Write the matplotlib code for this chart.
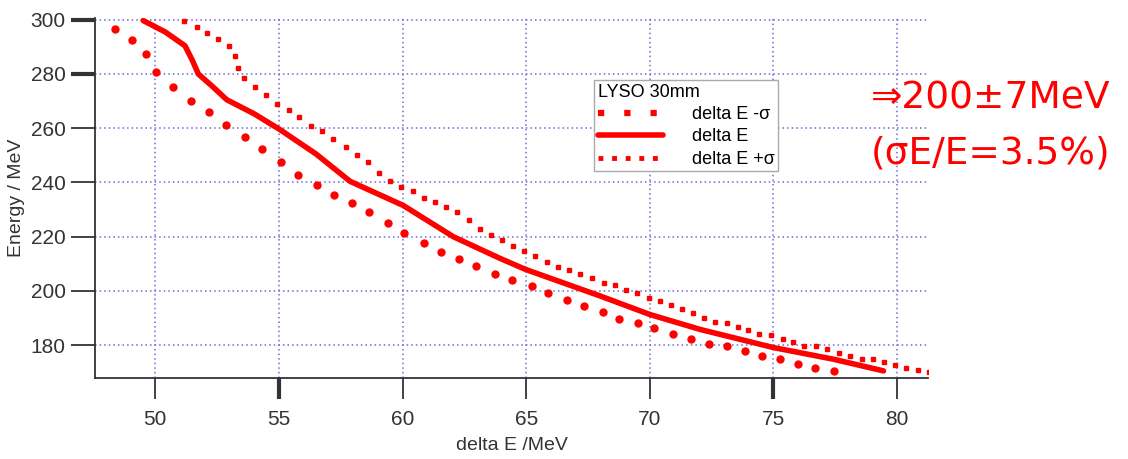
import matplotlib.pyplot as plt
from matplotlib.lines import Line2D

plt.rcParams['font.family'] = ['Liberation Sans', 'DejaVu Sans']

# courbe centrale : delta E
x_mid = [49.51, 50.4, 51.2, 51.5, 51.74, 52.3, 52.89, 54.0, 55.04, 56.5, 57.88,
         60.03, 62.05, 63.94, 64.98, 68.0, 70.0, 72.03, 75.0, 77.43, 79.45]
y_mid = [299.7, 295.5, 290.4, 285.0, 280.0, 275.5, 270.5, 265.3, 259.5, 250.5, 240.4,
         231.5, 220.0, 212.0, 207.9, 198.1, 191.3, 185.8, 179.1, 174.8, 170.5]

# delta E - sigma (gros points)
x_low = [48.37, 49.07, 49.62, 50.03, 50.7, 51.43, 52.16, 52.86, 53.63, 54.32, 55.07,
         55.78, 56.53, 57.23, 57.94, 58.66, 59.4, 60.06, 60.87, 61.54, 62.3, 62.97,
         63.74, 64.42, 65.23, 65.9, 66.67, 67.35, 68.1, 68.77, 69.51, 70.17, 70.95,
         71.65, 72.41, 73.14, 73.85, 74.55, 75.27, 75.99, 76.68, 77.43]
y_low = [296.6, 292.6, 287.4, 280.7, 275.2, 269.9, 265.9, 261.3, 256.8, 252.4, 247.6,
         242.6, 238.9, 235.3, 232.5, 229.0, 225.1, 221.2, 217.5, 214.4, 211.6, 209.1,
         206.4, 204.0, 201.8, 199.3, 196.6, 194.4, 192.2, 189.8, 188.3, 186.5, 184.0,
         182.4, 180.6, 179.5, 177.9, 176.0, 175.0, 173.2, 171.5, 170.5]

# delta E + sigma (petits points)
x_up = [51.16, 51.67, 52.1, 52.55, 52.98, 53.24, 53.36, 53.6, 54.03, 54.47, 54.91,
        55.4, 55.83, 56.29, 56.73, 57.2, 57.7, 58.15, 58.62, 59.06, 59.49, 59.94,
        60.41, 60.87, 61.31, 61.76, 62.22, 62.69, 63.14, 63.57, 64.02, 64.47, 64.92,
        65.36, 65.83, 66.28, 66.73, 67.18, 67.65, 68.15, 68.59, 69.04, 69.5, 69.97,
        70.42, 70.85, 71.29, 71.76, 72.2, 72.64, 73.12, 73.56, 73.99, 74.43, 74.91,
        75.38, 75.81, 76.25, 76.71, 77.16, 77.67, 78.1, 78.57, 79.04, 79.47, 79.92,
        80.36, 80.84, 81.3]
y_up = [299.7, 297.5, 295.1, 292.9, 290.2, 286.7, 282.2, 278.7, 275.2, 272.4, 269.1,
        266.9, 264.2, 261.0, 258.9, 256.1, 253.1, 250.3, 247.4, 243.5, 240.7, 238.4,
        236.8, 234.3, 232.7, 231.0, 229.0, 226.0, 223.0, 220.8, 218.7, 216.6, 214.7,
        212.8, 210.6, 208.9, 207.7, 206.1, 204.9, 203.0, 202.1, 200.3, 199.3, 197.5,
        196.2, 194.7, 193.2, 192.0, 190.1, 188.5, 188.3, 186.7, 185.6, 184.0, 183.6,
        182.1, 181.2, 179.5, 179.5, 178.5, 177.0, 176.0, 175.0, 174.8, 173.8, 172.7,
        171.7, 170.8, 170.2]

x_ticks = [50, 55, 60, 65, 70, 75, 80]
y_ticks = [180, 200, 220, 240, 260, 280, 300]

rouge = '#ff0000'

fig = plt.figure(figsize=(11.28, 4.59), dpi=100)
ax = fig.add_axes([0.0842, 0.176, 0.7385, 0.7845])

ax.plot(x_mid, y_mid, color=rouge, lw=4, solid_capstyle='round', zorder=3)
ax.plot(x_low, y_low, 'o', color=rouge, ms=5, mec=rouge, zorder=3)
ax.plot(x_up, y_up, 's', color=rouge, ms=3.3, mec=rouge, zorder=3)

ax.set_xlim(47.56, 81.25)
ax.set_ylim(167.8, 300.6)
ax.set_xticks(x_ticks)
ax.set_yticks(y_ticks)

# grille bleue en pointillés
ax.grid(True, color='#6a6ad8', linestyle=(0, (1, 2)), lw=1.1)
ax.set_axisbelow(True)

for s in ['top', 'right']:
    ax.spines[s].set_visible(False)
for s in ['left', 'bottom']:
    ax.spines[s].set_color('#333333')
    ax.spines[s].set_linewidth(1.3)

ax.tick_params(axis='x', length=15, width=1.3, color='#333333', labelsize=15,
               labelcolor='#333333', pad=8)
ax.tick_params(axis='y', length=17, width=1.3, color='#333333', labelsize=15,
               labelcolor='#333333', pad=4)
# quelques ticks plus épais (style Igor)
for i in [1, 5]:
    ax.xaxis.get_major_ticks()[i].tick1line.set_markeredgewidth(3)
for i in [5, 6]:
    ax.yaxis.get_major_ticks()[i].tick1line.set_markeredgewidth(3)

ax.set_xlabel('delta E /MeV', fontsize=14, color='#333333', labelpad=6)
ax.set_ylabel('Energy / MeV', fontsize=14, color='#333333', labelpad=4)

# légende
poignees = [
    Line2D([], [], color=rouge, lw=4.5, linestyle=(0, (1, 3.2))),
    Line2D([], [], color=rouge, lw=4, solid_capstyle='round'),
    Line2D([], [], color=rouge, lw=3.5, linestyle=(0, (1, 1.8))),
]
leg = ax.legend(poignees, ['delta E -σ', 'delta E', 'delta E +σ'],
                title='LYSO 30mm', alignment='left', loc='upper left',
                bbox_to_anchor=(0.5266, 0.8257), bbox_transform=fig.transFigure,
                fontsize=13, title_fontsize=13, fancybox=False, framealpha=1,
                edgecolor='#aaaaaa', handlelength=3.6, handletextpad=1.6,
                borderpad=0.2, labelspacing=0.3, borderaxespad=0)
leg.get_frame().set_linewidth(1)

fig.text(0.772, 0.785, '⇒200±7MeV', color=rouge, fontsize=27,
         family='DejaVu Sans', ha='left', va='center')
fig.text(0.772, 0.665, '(σE/E=3.5%)', color=rouge, fontsize=27,
         family='DejaVu Sans', ha='left', va='center')

plt.savefig('out.png', dpi=100)
